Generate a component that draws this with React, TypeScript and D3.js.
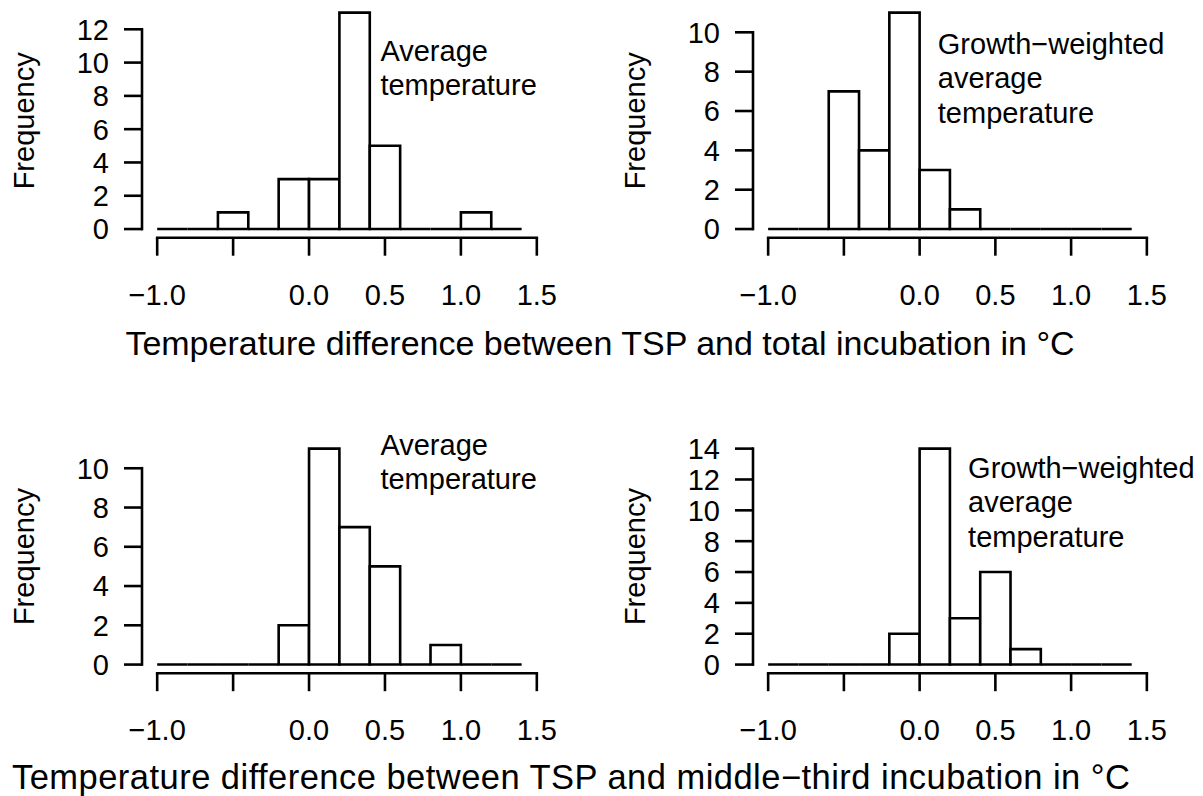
import React from "react";
import * as d3 from "d3";

// Bin edges (°C) shared by all four histograms
const binEdges = [-1.0, -0.8, -0.6, -0.4, -0.2, 0.0, 0.2, 0.4, 0.6, 0.8, 1.0, 1.2, 1.4];

// Counts per bin
const countsTotalAverage = [0, 0, 1, 0, 3, 3, 13, 5, 0, 0, 1, 0];
const countsTotalGrowth = [0, 0, 7, 4, 11, 3, 1, 0, 0, 0, 0, 0];
const countsMiddleAverage = [0, 0, 0, 0, 2, 11, 7, 5, 0, 1, 0, 0];
const countsMiddleGrowth = [0, 0, 0, 0, 2, 14, 3, 6, 1, 0, 0, 0];

// Axis ticks
const xTicks = [-1.0, -0.5, 0.0, 0.5, 1.0, 1.5];
const xTickLabels = ["−1.0", "", "0.0", "0.5", "1.0", "1.5"];
const yTicksTotalAverage = [0, 2, 4, 6, 8, 10, 12];
const yTicksTotalGrowth = [0, 2, 4, 6, 8, 10];
const yTicksMiddleAverage = [0, 2, 4, 6, 8, 10];
const yTicksMiddleGrowth = [0, 2, 4, 6, 8, 10, 12, 14];

// Annotation texts
const labelAverage = ["Average", "temperature"];
const labelGrowth = ["Growth−weighted", "average", "temperature"];

const titleTop = "Temperature difference between TSP and total incubation in °C";
const titleBottom = "Temperature difference between TSP and middle−third incubation in °C";

const FONT = "'Liberation Sans', Arial, Helvetica, sans-serif";

type PanelProps = {
  counts: number[];
  yTicks: number[];
  label: string[];
  left: number;
  right: number;
  top: number;
  bottom: number;
  labelX: number; // in data units
  labelY: number; // in count units (first baseline)
};

function Panel({ counts, yTicks, label, left, right, top, bottom, labelX, labelY }: PanelProps) {
  const maxC = d3.max(counts) as number;
  const x = d3.scaleLinear().domain([-1.1, 1.6]).range([left, right]);
  const y = d3.scaleLinear().domain([-0.04 * maxC, 1.04 * maxC]).range([bottom, top]);
  const sw = 2.6;
  const tickLen = 18;
  const fs = 29;
  return (
    <g>
      {/* bars */}
      {counts.map((c, i) => {
        const x0 = x(binEdges[i]);
        const x1 = x(binEdges[i + 1]);
        const y0 = y(0);
        const y1 = y(c);
        return (
          <path
            key={i}
            d={`M${x0},${y0}V${y1}H${x1}V${y0}Z`}
            fill="white"
            stroke="black"
            strokeWidth={sw}
            strokeLinejoin="miter"
          />
        );
      })}
      {/* y axis */}
      <line x1={left} x2={left} y1={y(yTicks[0])} y2={y(yTicks[yTicks.length - 1])} stroke="black" strokeWidth={sw} strokeLinecap="square" />
      {yTicks.map((t) => (
        <g key={t}>
          <line x1={left - tickLen} x2={left} y1={y(t)} y2={y(t)} stroke="black" strokeWidth={sw} />
          <text x={left - 33} y={y(t)} dy="0.36em" textAnchor="end" fontSize={fs} fontFamily={FONT}>
            {t}
          </text>
        </g>
      ))}
      <text
        transform={`translate(${left - 118},${(top + bottom) / 2}) rotate(-90)`}
        textAnchor="middle"
        dy="0.36em"
        fontSize={fs}
        fontFamily={FONT}
      >
        Frequency
      </text>
      {/* x axis */}
      <line x1={x(xTicks[0])} x2={x(xTicks[xTicks.length - 1])} y1={bottom} y2={bottom} stroke="black" strokeWidth={sw} strokeLinecap="square" />
      {xTicks.map((t, i) => (
        <g key={t}>
          <line x1={x(t)} x2={x(t)} y1={bottom} y2={bottom + tickLen} stroke="black" strokeWidth={sw} />
          {xTickLabels[i] && (
            <text x={x(t)} y={bottom + 67} textAnchor="middle" fontSize={fs} fontFamily={FONT}>
              {xTickLabels[i]}
            </text>
          )}
        </g>
      ))}
      {/* annotation */}
      <text x={x(labelX)} y={y(labelY)} fontSize={fs} fontFamily={FONT}>
        {label.map((l, i) => (
          <tspan key={i} x={x(labelX)} dy={i === 0 ? 0 : 34.5}>
            {l}
          </tspan>
        ))}
      </text>
    </g>
  );
}

export default function App() {
  const colL = { left: 142, right: 552 };
  const colR = { left: 753, right: 1162 };
  const rowT = { top: 4, bottom: 237.7 };
  const rowB = { top: 440, bottom: 673.2 };
  return (
    <svg width={1203} height={796} style={{ position: "absolute", left: 0, top: 0, background: "white" }}>
      <rect width={1203} height={796} fill="white" />
      <Panel counts={countsTotalAverage} yTicks={yTicksTotalAverage} label={labelAverage} {...colL} {...rowT} labelX={0.47} labelY={10.1} />
      <Panel counts={countsTotalGrowth} yTicks={yTicksTotalGrowth} label={labelGrowth} {...colR} {...rowT} labelX={0.12} labelY={8.9} />
      <Panel counts={countsMiddleAverage} yTicks={yTicksMiddleAverage} label={labelAverage} {...colL} {...rowB} labelX={0.47} labelY={10.7} />
      <Panel counts={countsMiddleGrowth} yTicks={yTicksMiddleGrowth} label={labelGrowth} {...colR} {...rowB} labelX={0.32} labelY={12.1} />
      <text x={600} y={355} textAnchor="middle" fontSize={34} fontFamily={FONT}>
        {titleTop}
      </text>
      <text x={571} y={789} textAnchor="middle" fontSize={34.5} fontFamily={FONT} textLength={1118} lengthAdjust="spacing">
        {titleBottom}
      </text>
    </svg>
  );
}
